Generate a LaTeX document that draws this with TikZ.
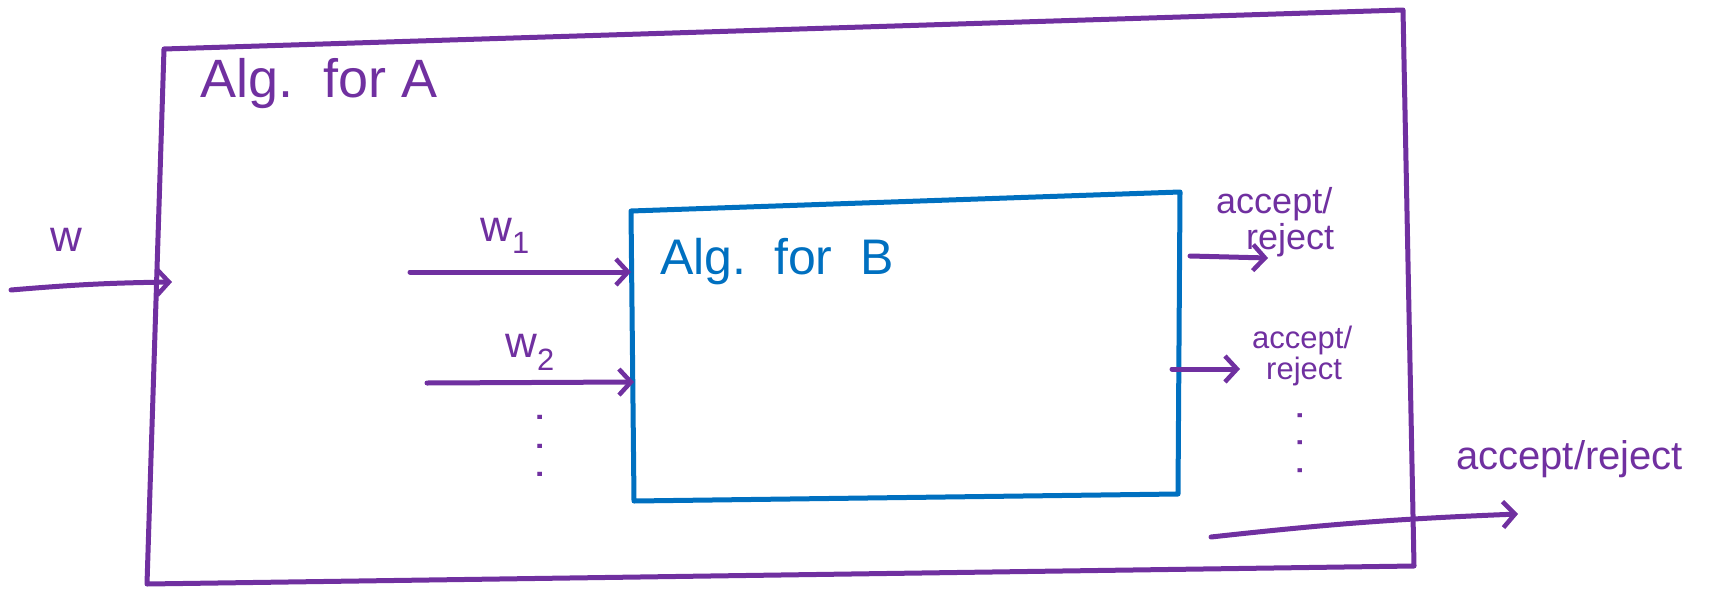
\documentclass[tikz,border=0pt]{standalone}
\usepackage{fontspec}
\setmainfont{Liberation Sans}
\usetikzlibrary{arrows.meta}
\definecolor{pen}{RGB}{112,48,160}
\definecolor{penblue}{RGB}{0,112,192}
\tikzset{
  ink/.style={line width=5pt, line cap=round, line join=round},
  flow/.style={ink, draw=pen, -{Straight Barb[length=12pt,width=26pt,line width=4.5pt]}},
  lbl/.style={text=pen, inner sep=0pt, font=\fontsize{#1}{#1}\selectfont},
  lbl/.default=34,
}
\begin{document}
\begin{tikzpicture}[x=1pt,y=-1pt]
  \useasboundingbox (0,0) rectangle (1712,589);

  % outer algorithm (A)
  \coordinate (Atl) at (164,49);
  \coordinate (Atr) at (1403,10);
  \coordinate (Abr) at (1414,566);
  \coordinate (Abl) at (147,584);
  \draw[ink, draw=pen] (Atl) -- (Atr) -- (Abr) -- (Abl) -- cycle;
  \node[lbl=54, anchor=west] (titleA) at (200,84) {Alg.\ \ for\ A};

  % inner algorithm (B)
  \coordinate (Btl) at (631,211);
  \coordinate (Btr) at (1180,192);
  \coordinate (Bbr) at (1178,494);
  \coordinate (Bbl) at (634,501);
  \draw[ink, draw=penblue] (Btl) -- (Btr) -- (Bbr) -- (Bbl) -- cycle;
  \node[lbl=50, text=penblue, anchor=west] (titleB) at (660,262) {Alg.\ \ for\ \ B};

  % input w into A
  \coordinate (win) at (11,290);
  \coordinate (wA) at (172,282);
  \draw[flow] (win) to[bend left=2] (wA);
  \node[lbl=44] (w) at (66,240) {w};

  % inputs w1, w2 into B
  \coordinate (w1in) at (410,272);
  \coordinate (w1B) at (631,272);
  \draw[flow] (w1in) -- (w1B);
  \node[lbl=44] (w1) at (505,236) {w\textsubscript{1}};

  \coordinate (w2in) at (427,383);
  \coordinate (w2B) at (634,382);
  \draw[flow] (w2in) -- (w2B);
  \node[lbl=44] (w2) at (530,352) {w\textsubscript{2}};
  \node[lbl=44, rotate=90] (wdots) at (540,446) {. . .};

  % outputs of B
  \coordinate (o1s) at (1190,256);
  \coordinate (o1e) at (1268,258);
  \draw[flow] (o1s) -- (o1e);
  \node[lbl=36, align=left, anchor=west] (r1) at (1216,222) {accept/\\\hspace{30pt}reject};

  \coordinate (o2s) at (1172,369);
  \coordinate (o2e) at (1240,369);
  \draw[flow] (o2s) -- (o2e);
  \node[lbl=31, align=left, anchor=west] (r2) at (1252,356) {accept/\\\hspace{14pt}reject};
  \node[lbl=42, rotate=90] (rdots) at (1300,443) {. . .};

  % output of A
  \coordinate (o3s) at (1211,537);
  \coordinate (o3e) at (1518,514);
  \draw[flow] (o3s) to[bend left=2] (o3e);
  \node[lbl=40, anchor=west] (r3) at (1456,459) {accept/reject};
\end{tikzpicture}
\end{document}
